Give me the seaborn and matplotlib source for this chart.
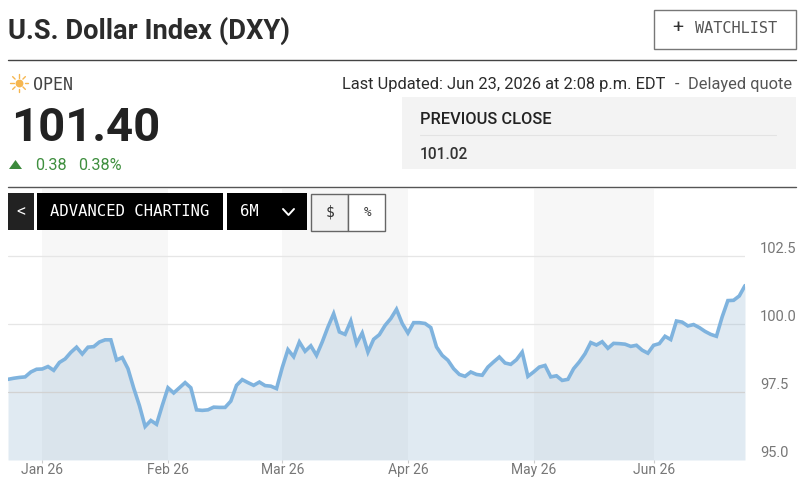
import matplotlib
matplotlib.use("Agg")
import matplotlib.pyplot as plt
from matplotlib.patches import Rectangle, Polygon
import numpy as np
import pandas as pd
import seaborn as sns

# Daily index closes, one entry per trading session
closes = [
    97.96, 98.00, 98.03, 98.05, 98.23, 98.33, 98.34, 98.43, 98.29, 98.58,
    98.71, 98.95, 99.14, 98.89, 99.14, 99.16, 99.33, 99.41, 99.41, 98.67,
    98.76, 98.35, 97.64, 97.00, 96.23, 96.45, 96.31, 97.00, 97.65, 97.46,
    97.65, 97.84, 97.65, 96.84, 96.82, 96.84, 96.94, 96.93, 96.93, 97.16,
    97.74, 97.95, 97.84, 97.74, 97.86, 97.73, 97.71, 97.62, 98.39, 99.05,
    98.79, 99.33, 98.99, 99.19, 98.84, 99.33, 99.88, 100.37, 99.70, 99.61,
    100.10, 99.27, 99.66, 98.96, 99.43, 99.60, 99.94, 100.19, 100.53, 100.01,
    99.66, 100.04, 100.04, 100.01, 99.86, 99.15, 98.84, 98.66, 98.35, 98.14,
    98.07, 98.23, 98.14, 98.11, 98.41, 98.60, 98.78, 98.56, 98.51, 98.68,
    98.96, 98.07, 98.23, 98.41, 98.47, 98.05, 98.09, 97.92, 97.96, 98.35,
    98.60, 98.90, 99.31, 99.22, 99.34, 99.10, 99.28, 99.27, 99.25, 99.17,
    99.21, 99.03, 98.92, 99.21, 99.27, 99.54, 99.42, 100.10, 100.06, 99.92,
    99.97, 99.86, 99.72, 99.61, 99.54, 100.25, 100.85, 100.86, 101.02, 101.40,
]
month_labels = ["Jan 26", "Feb 26", "Mar 26", "Apr 26", "May 26", "Jun 26"]
month_starts = [6, 28, 48, 70, 92, 113]
price_ticks = [95.0, 97.5, 100.0, 102.5]

sns.set_theme(style="white")
plt.rcParams["font.family"] = ["Roboto", "DejaVu Sans"]

W, H = 800, 492
fig = plt.figure(figsize=(W / 100, H / 100), dpi=100, facecolor="white")

# Price panel
ax = fig.add_axes([8 / W, (H - 460) / H, 737 / W, 271 / H])
frame = pd.DataFrame({"session": range(len(closes)), "close": closes})
ax.set_xlim(0, len(closes) - 1)
ax.set_ylim(95.0, 104.945)

for a, b in zip(month_starts[0::2], month_starts[1::2]):
    ax.axvspan(a, b, color="#f7f7f7", lw=0, zorder=0)
ax.fill_between(frame["session"], frame["close"], 95.0,
                color="#8fb4d0", alpha=0.27, lw=0, zorder=2)
for tick in price_ticks[1:]:
    ax.axhline(tick, color="#d2d2d2" if tick == 97.5 else "#e6e6e6", lw=0.9, zorder=1 if tick != 97.5 else 3)
sns.lineplot(data=frame, x="session", y="close", ax=ax, color="#7fb3de",
             lw=2.6, zorder=4, solid_joinstyle="miter", errorbar=None)

ax.set_xlabel("")
ax.set_ylabel("")
sns.despine(ax=ax, left=True, right=True, top=True, bottom=True)
ax.set_xticks(month_starts, month_labels)
ax.tick_params(axis="x", length=2, width=0.8, color="#cccccc", labelcolor="#777777",
               labelsize=10, pad=0.5, bottom=True)
ax.yaxis.tick_right()
ax.set_yticks(price_ticks, [f"{t:.1f}" for t in price_ticks])
ax.tick_params(axis="y", length=0, labelcolor="#777777", labelsize=10.5, pad=11)
for lab in ax.get_yticklabels():
    lab.set_va("bottom")
ax.patch.set_alpha(0)

# Quote header and controls, laid out in pixel coordinates
ui = fig.add_axes([0, 0, 1, 1], zorder=5)
ui.set_xlim(0, W)
ui.set_ylim(H, 0)
ui.axis("off")


def box(x0, y0, x1, y1, face, edge="none", lw=0.0):
    ui.add_patch(Rectangle((x0, y0), x1 - x0, y1 - y0, facecolor=face, edgecolor=edge, lw=lw))


def label(x, y, s, size, color="#222222", weight="normal", family=None, ha="left"):
    ui.text(x, y, s, fontsize=size, color=color, fontweight=weight, ha=ha, va="center",
            family=family if family else plt.rcParams["font.family"])


MONO = "DejaVu Sans Mono"

label(8, 30.5, "U.S. Dollar Index (DXY)", 19.7, "#2b2b2b", "bold")
ui.plot([8, 796], [60, 60], color="#444444", lw=1.0)
box(653.5, 9.5, 795.5, 48.5, "white", "#777777", 1.0)
label(678, 28, "+", 14, "#333333", "normal", ha="center")
label(695, 28.5, "WATCHLIST", 11, "#555555", family=MONO)

# Market-open sun
ui.scatter([19], [83], s=32, color="#f6b64f", lw=0, zorder=3)
for ang in np.arange(0, 2 * np.pi, np.pi / 4):
    ui.plot([19 + 5.5 * np.cos(ang), 19 + 9 * np.cos(ang)],
            [83 + 5.5 * np.sin(ang), 83 + 9 * np.sin(ang)], color="#f6b64f", lw=1.0)
label(33, 84.5, "OPEN", 12, "#444444", family=MONO)

label(342, 84, "Last Updated: Jun 23, 2026 at 2:08 p.m. EDT", 11.8, "#2b2b2b")
label(675, 84, "-", 11.8, "#555555")
label(688, 84, "Delayed quote", 11.8, "#555555")

label(11, 128, f"{closes[-1]:.2f}", 34, "#222222", "bold")
ui.add_patch(Polygon([[9, 169], [22, 169], [15.5, 160]], closed=True, color="#3c8a3c", lw=0))
label(35, 165, "0.38", 11.7, "#3f8f3f")
label(78, 165, "0.38%", 11.7, "#3f8f3f")

box(402, 97, 796, 169, "#f3f3f3")
label(420, 119, "PREVIOUS CLOSE", 11.8, "#222222", "medium")
ui.plot([420, 776], [135, 135], color="#e3e3e3", lw=0.8)
label(420, 154.5, f"{closes[-2]:.2f}", 11.2, "#333333", "medium")

ui.plot([8, 796], [187, 187], color="#555555", lw=1.0)

box(8, 193, 34, 230, "#222222")
label(21, 212, "<", 10.5, "white", family=MONO, ha="center")
box(37, 193, 223, 230, "#000000")
label(50, 211.5, "ADVANCED CHARTING", 11.2, "white", family=MONO)
box(227, 193, 307, 230, "#000000")
label(240, 211.5, "6M", 11.2, "white", family=MONO)
ui.plot([283, 288.5, 294], [209, 215, 209], color="white", lw=1.4)
box(311, 193.5, 348, 230.5, "#f2f2f2", "#666666", 1.0)
box(348, 193.5, 385, 230.5, "white", "#666666", 1.0)
label(330, 212, "$", 10.5, "#333333", family=MONO, ha="center")
label(367, 212, "%", 9, "#333333", family=MONO, ha="center")

fig.savefig("out.png", dpi=100, facecolor="white")
